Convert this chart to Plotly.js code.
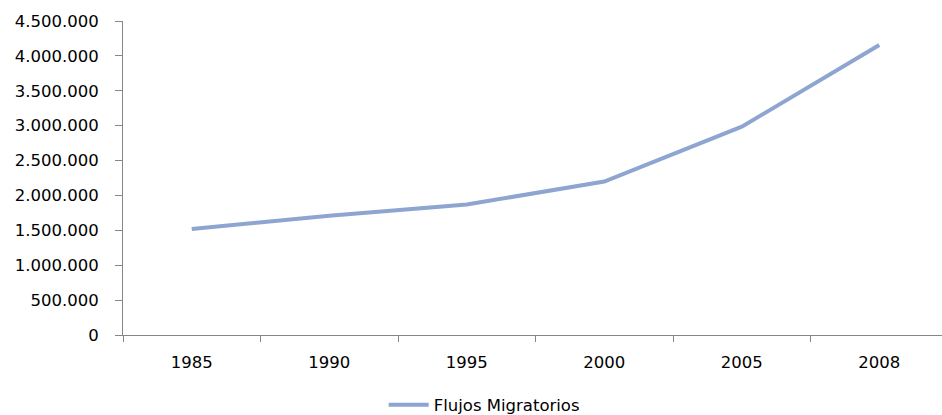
<!DOCTYPE html>
<html>
<head>
<meta charset="utf-8">
<script src="https://cdn.plot.ly/plotly-3.0.1.min.js"></script>
<style>html,body{margin:0;padding:0;background:#fff;}#chart{width:942px;height:415px;}</style>
</head>
<body>
<div id="chart"></div>
<script>
const years = ['1985', '1990', '1995', '2000', '2005', '2008'];
const flujos = [1520000, 1710000, 1870000, 2200000, 2985000, 4155000];
const seriesName = 'Flujos Migratorios';
const yTicks = [0, 500000, 1000000, 1500000, 2000000, 2500000, 3000000, 3500000, 4000000, 4500000];

const font = {family: 'DejaVu Sans, sans-serif', size: 16.5, color: '#000'};

Plotly.newPlot('chart', [{
  x: years,
  y: flujos,
  type: 'scatter',
  mode: 'lines',
  name: seriesName,
  line: {color: '#8DA5D0', width: 4},
  hoverinfo: 'skip'
}], {
  width: 942, height: 415,
  margin: {l: 123, r: 0, t: 21, b: 80, pad: 0, autoexpand: false},
  paper_bgcolor: '#fff', plot_bgcolor: '#fff',
  separators: ',.',
  font: font,
  showlegend: true,
  legend: {xref: 'container', yref: 'container', x: 0.514, xanchor: 'center', y: 0.024, yanchor: 'middle',
           orientation: 'h', font: font, itemwidth: 40},
  xaxis: {
    type: 'category',
    range: [-0.5, 5.456],
    showgrid: false, zeroline: false,
    showline: true, linecolor: '#868686', linewidth: 1,
    ticks: 'outside', tickson: 'boundaries', ticklen: 6, tickcolor: '#868686',
    ticklabelstandoff: 12,
    tickfont: font, fixedrange: true
  },
  yaxis: {
    range: [0, 4500000],
    tickvals: yTicks,
    tickformat: ',d',
    showgrid: false, zeroline: false,
    showline: true, linecolor: '#868686', linewidth: 1,
    ticks: 'outside', ticklen: 7, tickcolor: '#868686',
    ticklabelstandoff: 13,
    tickfont: font, fixedrange: true
  }
}, {staticPlot: true, displayModeBar: false});
</script>
</body>
</html>
